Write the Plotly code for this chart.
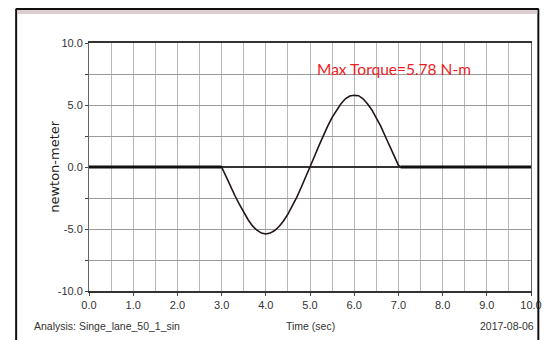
import plotly.graph_objects as go

# Data
time_s = [0.0, 1.0, 2.0, 3.0, 3.1, 3.2, 3.3, 3.4, 3.5, 3.6, 3.7, 3.8, 3.9, 4.0,
          4.1, 4.2, 4.3, 4.4, 4.5, 4.6, 4.7, 4.8, 4.9, 5.0, 5.1, 5.2, 5.3, 5.4,
          5.5, 5.6, 5.7, 5.8, 5.9, 6.0, 6.1, 6.2, 6.3, 6.4, 6.5, 6.6, 6.7, 6.8,
          6.9, 7.0, 7.05, 8.0, 9.0, 10.0]
torque = [0.0, 0.0, 0.0, 0.0, -0.75, -1.55, -2.3, -3.0, -3.65, -4.25, -4.75, -5.1, -5.33, -5.4,
          -5.33, -5.12, -4.8, -4.35, -3.8, -3.15, -2.45, -1.65, -0.85, 0.0, 0.85, 1.7, 2.55, 3.3,
          4.0, 4.6, 5.1, 5.5, 5.72, 5.78, 5.75, 5.5, 5.1, 4.6, 4.0, 3.3, 2.5, 1.7,
          0.85, 0.15, 0.0, 0.0, 0.0, 0.0]
x_ticks = [0, 1, 2, 3, 4, 5, 6, 7, 8, 9, 10]
x_tick_labels = ["0.0", "1.0", "2.0", "3.0", "4.0", "5.0", "6.0", "7.0", "8.0", "9.0", "10.0"]
y_ticks = [-10, -5, 0, 5, 10]
y_tick_labels = ["-10.0", "-5.0", "0.0", "5.0", "10.0"]

W, H = 554, 340
L, R, T, B = 89, 541, 43, 291

fig = go.Figure()
# whole curve (thin)
fig.add_trace(go.Scatter(x=time_s, y=torque, mode="lines",
                         line=dict(color="#221515", width=1.6),
                         hoverinfo="skip", showlegend=False))
# flat rest segments drawn heavier, as in the original
for sl in (slice(0, 4), slice(44, 48)):
    fig.add_trace(go.Scatter(x=time_s[sl], y=torque[sl], mode="lines",
                             line=dict(color="#111111", width=3.2),
                             hoverinfo="skip", showlegend=False))

tickfont = dict(family="Liberation Sans, Arial, sans-serif", size=11, color="#333333")
botfont = dict(family="Liberation Sans, Arial, sans-serif", size=10.5, color="#333333")

fig.update_layout(
    width=W, height=H,
    margin=dict(l=L, r=W - R, t=T, b=H - B, pad=0),
    paper_bgcolor="white", plot_bgcolor="white",
    showlegend=False,
    xaxis=dict(range=[0, 10], tickvals=x_ticks, ticktext=x_tick_labels,
               showgrid=False, zeroline=False,
               minor=dict(dtick=0.5, showgrid=True, gridcolor="#b8b8b8", gridwidth=1),
               ticks="outside", ticklen=3, tickcolor="#444", tickwidth=1,
               showline=True, linecolor="#333333", linewidth=2, mirror=True,
               tickfont=tickfont, fixedrange=True),
    yaxis=dict(range=[-10, 10], tickvals=y_ticks, ticktext=y_tick_labels,
               showgrid=True, gridcolor="#9a9a9a", gridwidth=1,
               zeroline=True, zerolinecolor="#333333", zerolinewidth=1.5,
               minor=dict(dtick=2.5, showgrid=True, gridcolor="#9a9a9a", gridwidth=1,
                          ticks="outside", ticklen=3, tickcolor="#444"),
               ticks="outside", ticklen=3, tickcolor="#444", tickwidth=1,
               showline=True, linecolor="#666666", linewidth=1, mirror=True,
               tickfont=tickfont, fixedrange=True),
)

def px(x):
    return (x - L) / (R - L)

def py(y):
    return (B - y) / (B - T)

# outer frame lines
for xx in (14.5, 548.5):
    fig.add_shape(type="line", xref="paper", yref="paper",
                  x0=px(xx), x1=px(xx), y0=py(9), y1=py(345),
                  line=dict(color="#111111", width=2))
fig.add_shape(type="line", xref="paper", yref="paper",
              x0=px(14), x1=px(549), y0=py(9), y1=py(9),
              line=dict(color="#111111", width=2))
# pinkish strip under the top frame
fig.add_shape(type="rect", xref="paper", yref="paper",
              x0=px(15.5), x1=px(547.5), y0=py(10), y1=py(14),
              line=dict(width=0), fillcolor="#dccdd0")

fig.add_annotation(text="Max Torque=5.78 N-m", xref="paper", yref="paper",
                   x=px(320), y=py(69), xanchor="left", yanchor="middle",
                   showarrow=False,
                   font=dict(family="Lato, sans-serif", size=15.5, color="#ee1c24"))
fig.add_annotation(text="newton-meter", xref="paper", yref="paper",
                   x=px(53), y=py(166), xanchor="center", yanchor="middle",
                   textangle=-90, showarrow=False,
                   font=dict(family="DejaVu Sans, sans-serif", size=13, color="#222222"))
fig.add_annotation(text="Time (sec)", xref="paper", yref="paper",
                   x=px(315), y=py(326), xanchor="center", yanchor="middle",
                   showarrow=False, font=botfont)
fig.add_annotation(text="Analysis: Singe_lane_50_1_sin", xref="paper", yref="paper",
                   x=px(31), y=py(326), xanchor="left", yanchor="middle",
                   showarrow=False, font=botfont)
fig.add_annotation(text="2017-08-06", xref="paper", yref="paper",
                   x=px(546), y=py(326), xanchor="right", yanchor="middle",
                   showarrow=False, font=botfont)

fig.write_html("out.html", config={"displayModeBar": False},
               post_script="document.body.style.margin='0';document.body.style.overflow='hidden';")
